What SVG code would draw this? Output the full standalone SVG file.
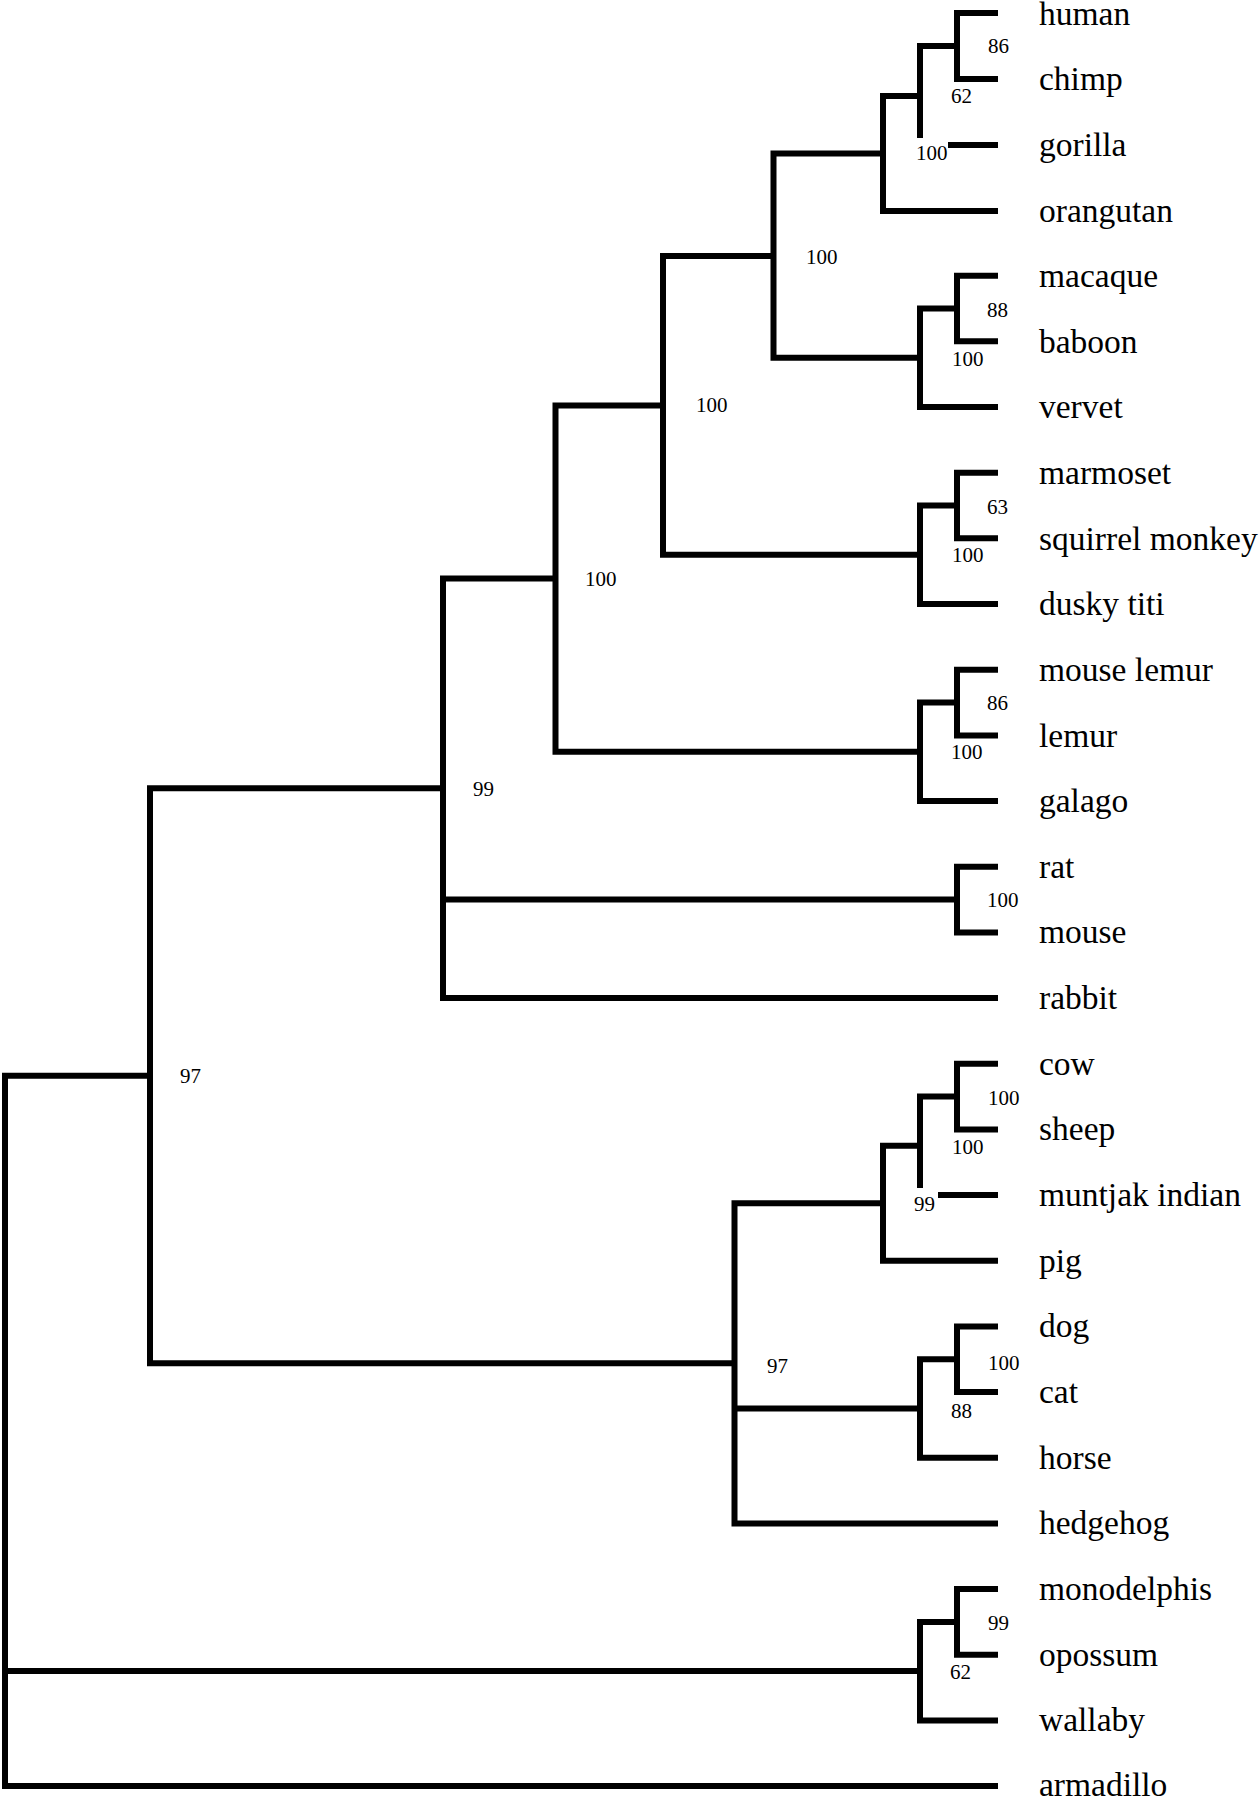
<svg xmlns="http://www.w3.org/2000/svg" width="1259" height="1800" viewBox="0 0 1259 1800">
<style>
.c{fill:none;stroke:#000;stroke-width:6;stroke-linejoin:miter;stroke-linecap:butt}
.t{font-family:"Liberation Serif","Times New Roman",serif;font-size:33.5px;fill:#000}
.b{font-family:"Liberation Serif","Times New Roman",serif;font-size:21px;fill:#000}
</style>
<rect width="1259" height="1800" fill="#fff"/>
<g id="connectors" class="c">
<path d="M150,1075.8 H5 V1786 H998"/>
<path d="M5,1671.1 H920"/>
<path d="M443,788.3 H150 V1363.3 H734.5"/>
<path d="M555.5,578.6 H443 V998 H998"/>
<path d="M443,899.5 H957"/>
<path d="M663,405.4 H555.5 V751.8 H920"/>
<path d="M773.5,256 H663 V554.8 H920"/>
<path d="M883,153.5 H773.5 V357.8 H920"/>
<path d="M920,96 H883 V211 H998"/>
<path d="M957,46 H920 V138"/>
<path d="M948,145 H998"/>
<path d="M998,13 H957 V79 H998"/>
<path d="M998,275.7 H957 V341.3 H998"/>
<path d="M957,308.5 H920 V407 H998"/>
<path d="M998,472.7 H957 V538.3 H998"/>
<path d="M957,505.5 H920 V604 H998"/>
<path d="M998,669.7 H957 V735.4 H998"/>
<path d="M957,702.5 H920 V801 H998"/>
<path d="M998,866.7 H957 V932.4 H998"/>
<path d="M883,1203.3 H734.5 V1523.4 H998"/>
<path d="M734.5,1408.5 H920"/>
<path d="M998,1063.7 H957 V1129.4 H998"/>
<path d="M957,1096.5 H920 V1188"/>
<path d="M938,1195 H998"/>
<path d="M920,1145.8 H883 V1260.7 H998"/>
<path d="M998,1326.4 H957 V1392 H998"/>
<path d="M957,1359.2 H920 V1457.7 H998"/>
<path d="M998,1589 H957 V1654.7 H998"/>
<path d="M957,1621.9 H920 V1720.4 H998"/>
</g>
<g id="leaves" class="t">
<g id="leaf-human"><text x="1039" y="25">human</text></g>
<g id="leaf-chimp"><text x="1039" y="90">chimp</text></g>
<g id="leaf-gorilla"><text x="1039" y="156">gorilla</text></g>
<g id="leaf-orangutan"><text x="1039" y="222">orangutan</text></g>
<g id="leaf-macaque"><text x="1039" y="287">macaque</text></g>
<g id="leaf-baboon"><text x="1039" y="353">baboon</text></g>
<g id="leaf-vervet"><text x="1039" y="418">vervet</text></g>
<g id="leaf-marmoset"><text x="1039" y="484">marmoset</text></g>
<g id="leaf-squirrel-monkey"><text x="1039" y="550">squirrel monkey</text></g>
<g id="leaf-dusky-titi"><text x="1039" y="615">dusky titi</text></g>
<g id="leaf-mouse-lemur"><text x="1039" y="681">mouse lemur</text></g>
<g id="leaf-lemur"><text x="1039" y="747">lemur</text></g>
<g id="leaf-galago"><text x="1039" y="812">galago</text></g>
<g id="leaf-rat"><text x="1039" y="878">rat</text></g>
<g id="leaf-mouse"><text x="1039" y="943">mouse</text></g>
<g id="leaf-rabbit"><text x="1039" y="1009">rabbit</text></g>
<g id="leaf-cow"><text x="1039" y="1075">cow</text></g>
<g id="leaf-sheep"><text x="1039" y="1140">sheep</text></g>
<g id="leaf-muntjak-indian"><text x="1039" y="1206">muntjak indian</text></g>
<g id="leaf-pig"><text x="1039" y="1272">pig</text></g>
<g id="leaf-dog"><text x="1039" y="1337">dog</text></g>
<g id="leaf-cat"><text x="1039" y="1403">cat</text></g>
<g id="leaf-horse"><text x="1039" y="1469">horse</text></g>
<g id="leaf-hedgehog"><text x="1039" y="1534">hedgehog</text></g>
<g id="leaf-monodelphis"><text x="1039" y="1600">monodelphis</text></g>
<g id="leaf-opossum"><text x="1039" y="1666">opossum</text></g>
<g id="leaf-wallaby"><text x="1039" y="1731">wallaby</text></g>
<g id="leaf-armadillo"><text x="1039" y="1796">armadillo</text></g>
</g>
<g id="internal-nodes" class="b">
<g id="node-human-chimp"><text x="988" y="53">86</text></g>
<g id="node-hominini-62"><text x="951" y="103">62</text></g>
<g id="node-homininae"><text x="916" y="160">100</text></g>
<g id="node-catarrhini"><text x="806" y="264">100</text></g>
<g id="node-macaque-baboon"><text x="987" y="317">88</text></g>
<g id="node-papionini"><text x="952" y="366">100</text></g>
<g id="node-anthropoidea"><text x="696" y="412">100</text></g>
<g id="node-marmoset-squirrel"><text x="987" y="514">63</text></g>
<g id="node-platyrrhini"><text x="952" y="562">100</text></g>
<g id="node-primates"><text x="585" y="586">100</text></g>
<g id="node-lemur-pair"><text x="987" y="710">86</text></g>
<g id="node-strepsirrhini"><text x="951" y="759">100</text></g>
<g id="node-euarchontoglires"><text x="473" y="796">99</text></g>
<g id="node-rodents"><text x="987" y="907">100</text></g>
<g id="node-eutheria"><text x="180" y="1083">97</text></g>
<g id="node-cow-sheep"><text x="988" y="1105">100</text></g>
<g id="node-bovidae"><text x="952" y="1154">100</text></g>
<g id="node-ruminantia"><text x="914" y="1211">99</text></g>
<g id="node-laurasiatheria"><text x="767" y="1373">97</text></g>
<g id="node-dog-cat"><text x="988" y="1370">100</text></g>
<g id="node-carnivora-horse"><text x="951" y="1418">88</text></g>
<g id="node-mono-opossum"><text x="988" y="1630">99</text></g>
<g id="node-marsupialia"><text x="950" y="1679">62</text></g>
</g>
</svg>
